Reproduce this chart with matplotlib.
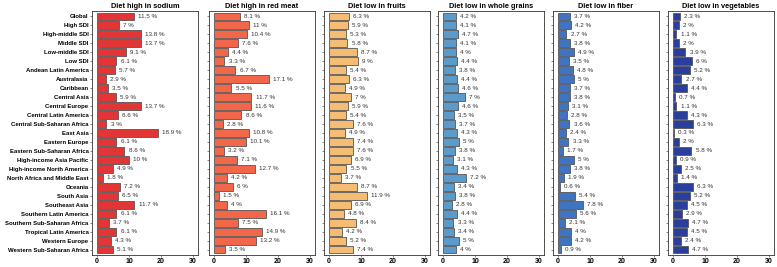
import matplotlib
matplotlib.use("Agg")
import matplotlib.pyplot as plt
import numpy as np

plt.rcParams['font.family'] = ['Liberation Sans', 'DejaVu Sans']

regions = ["Global", "High SDI", "High-middle SDI", "Middle SDI", "Low-middle SDI", "Low SDI",
           "Andean Latin America", "Australasia", "Caribbean", "Central Asia", "Central Europe",
           "Central Latin America", "Central Sub-Saharan Africa", "East Asia", "Eastern Europe",
           "Eastern Sub-Saharan Africa", "High-income Asia Pacific", "High-income North America",
           "North Africa and Middle East", "Oceania", "South Asia", "Southeast Asia",
           "Southern Latin America", "Southern Sub-Saharan Africa", "Tropical Latin America",
           "Western Europe", "Western Sub-Saharan Africa"]

sodium = [11.5, 7, 13.8, 13.7, 9.1, 6.1, 5.7, 2.9, 3.5, 5.9, 13.7, 6.6, 3, 18.9, 6.1, 8.6,
          10, 4.9, 1.8, 7.2, 6.5, 11.7, 6.1, 3.7, 6.1, 4.3, 5.1]
red_meat = [8.1, 11, 10.4, 7.6, 4.4, 3.3, 6.7, 17.1, 5.5, 11.7, 11.6, 8.6, 2.8, 10.8, 10.1, 3.2,
            7.1, 12.7, 4.2, 6, 1.5, 4, 16.1, 7.5, 14.9, 13.2, 3.5]
fruits = [6.3, 5.9, 5.3, 5.8, 8.7, 9, 5.4, 6.3, 4.9, 7, 5.9, 5.4, 7.6, 4.9, 7.4, 7.6,
          6.9, 5.5, 3.7, 8.7, 11.9, 6.9, 4.8, 8.4, 4.2, 5.2, 7.4]
whole_grains = [4.2, 4.1, 4.7, 4.1, 4, 4.4, 3.8, 4.4, 4.6, 7, 4.6, 3.5, 3.7, 4.3, 5, 3.8,
                3.1, 4.3, 7.2, 3.4, 3.8, 2.8, 4.4, 3.3, 3.4, 5, 4]
fiber = [3.7, 4.2, 2.7, 3.8, 4.9, 3.5, 4.8, 5, 3.7, 3.8, 3.1, 2.8, 3.6, 2.4, 3.3, 1.7,
         5, 3.8, 1.9, 0.6, 5.4, 7.8, 5.6, 2.1, 4, 4.2, 0.9]
vegetables = [2.3, 2, 1.1, 2, 3.9, 6, 5.2, 2.7, 4.4, 0.7, 1.1, 4.3, 6.3, 0.3, 2, 5.8,
              0.9, 2.5, 1.4, 6.3, 5.2, 4.5, 2.9, 4.7, 4.5, 2.4, 4.7]

titles = ["Diet high in sodium", "Diet high in red meat", "Diet low in fruits",
          "Diet low in whole grains", "Diet low in fiber", "Diet low in vegetables"]
series = [sodium, red_meat, fruits, whole_grains, fiber, vegetables]
colors = ["#E23636", "#F2674A", "#F5BD73", "#5A9BCB", "#3E74C2", "#2A3E9E"]

fig = plt.figure(figsize=(7.77, 2.67), dpi=100)
W, H = 777, 267
lefts = [92, 209, 324, 438, 553, 668]
pw = 106
top, bottom = 11, 255

y = np.arange(len(regions))
for i, (vals, title, col) in enumerate(zip(series, titles, colors)):
    ax = fig.add_axes([lefts[i] / W, 1 - bottom / H, pw / W, (bottom - top) / H])
    ax.barh(y, vals, height=0.86, color=col, edgecolor="#555555", linewidth=0.6)
    for yy, v in zip(y, vals):
        ax.annotate(f"{v:g} %", (v, yy), xytext=(3, 0), textcoords="offset points",
                    va="center", ha="left", fontsize=4.5, color="#333333")
    ax.set_xlim(-1.5, 31.5)
    ax.set_ylim(len(regions) - 0.4, -0.6)
    ax.set_xticks([0, 10, 20, 30])
    ax.set_yticks(y)
    if i == 0:
        ax.set_yticklabels(regions, fontsize=4.3, fontweight="bold")
    else:
        ax.set_yticklabels([])
    ax.tick_params(axis="both", length=1.5, width=0.5, color="#555555", pad=1)
    ax.tick_params(axis="x", labelsize=5.0)
    for lab in ax.get_xticklabels():
        lab.set_fontweight("bold")
    for s in ax.spines.values():
        s.set_linewidth(0.6)
        s.set_color("#333333")
    ax.set_title(title, fontsize=5.3, fontweight="bold", pad=2)

fig.savefig("out.png", dpi=100)
